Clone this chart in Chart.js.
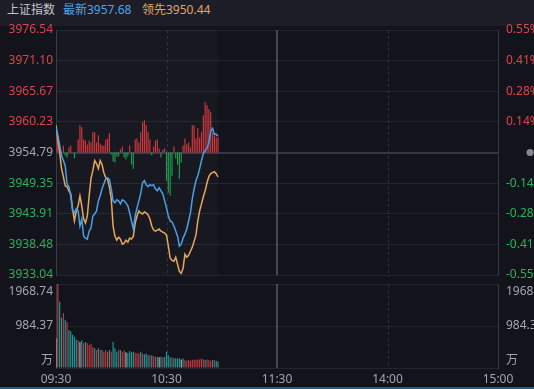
<!DOCTYPE html>
<html><head><meta charset="utf-8">
<script src="https://cdn.jsdelivr.net/npm/chart.js@4.4.1/dist/chart.umd.min.js"></script>
<style>
html,body{margin:0;padding:0;background:#13141b;width:534px;height:389px;overflow:hidden;font-family:"Noto Sans","Noto Sans CJK SC",sans-serif}
#hdr{position:absolute;left:0;top:0;width:534px;height:26px;background:#1c1d27}
#hdr span{position:absolute;top:2px;font-size:12px;line-height:16px;white-space:nowrap}
#c1{position:absolute;left:0;top:22px}
#c2{position:absolute;left:0;top:278px}
#foot{position:absolute;left:0;top:387px;width:534px;height:2px;background:#1f5f99}
</style></head><body>
<div id="hdr"><span style="left:7px;color:#c3c6cd">上证指数</span><span style="left:63px;color:#4ea5ec">最新3957.68</span><span style="left:142px;color:#e3a55c">领先3950.44</span></div>
<canvas id="c1" width="534" height="256"></canvas>
<canvas id="c2" width="534" height="111"></canvas>
<div id="foot"></div>
<script>
// ---- data ----
const prevClose = 3954.79;
const priceTicks = [3933.04, 3938.48, 3943.91, 3949.35, 3954.79, 3960.23, 3965.67, 3971.10, 3976.54];
const timeTickPos = [0, 60, 120, 180, 240];
const timeLabels = ['09:30', '10:30', '11:30', '14:00', '15:00'];
const volTicks = [0, 984.37, 1968.74];

const priceLine = [3959.26,3957.83,3956.04,3954.25,3953.36,3952.46,3949.25,3948.71,3947.10,3944.42,
 3944.06,3944.77,3944.42,3941.73,3942.98,3939.94,3939.59,3939.41,3940.84,3941.37,
 3943.52,3943.88,3944.42,3946.20,3947.10,3948.35,3949.25,3950.14,3950.32,3949.96,
 3948.35,3946.20,3945.85,3946.38,3946.20,3945.67,3946.38,3946.20,3945.85,3945.31,
 3944.06,3942.63,3941.20,3943.52,3944.95,3946.20,3947.46,3949.42,3949.78,3949.07,
 3948.71,3949.07,3948.89,3949.07,3948.35,3947.99,3948.53,3947.99,3947.46,3946.20,
 3944.95,3943.52,3942.63,3942.45,3941.73,3940.84,3939.94,3938.16,3938.51,3939.59,
 3940.30,3941.20,3942.63,3944.06,3946.56,3948.35,3949.78,3950.68,3951.93,3953.36,
 3954.61,3955.15,3955.51,3956.58,3958.55,3959.08,3958.01,3958.01,3957.68];

const leadLine = [3959.62,3956.94,3954.79,3951.93,3950.50,3948.89,3948.71,3947.99,3947.46,3944.77,
 3942.63,3944.42,3945.31,3947.10,3945.31,3942.98,3942.27,3943.52,3947.10,3950.14,
 3951.57,3953.36,3952.82,3951.93,3953.36,3952.64,3951.21,3950.32,3949.96,3948.71,
 3946.56,3941.73,3939.94,3939.23,3939.76,3939.41,3938.51,3938.69,3939.23,3938.87,
 3939.59,3939.41,3939.94,3942.27,3943.52,3944.42,3944.06,3943.88,3944.24,3944.06,
 3943.70,3942.98,3941.73,3941.02,3940.84,3941.02,3941.20,3940.84,3940.66,3940.48,
 3940.12,3938.16,3936.01,3935.65,3935.47,3936.19,3934.94,3933.68,3933.33,3934.22,
 3936.72,3936.19,3936.55,3937.26,3937.98,3939.05,3940.12,3942.63,3944.42,3945.67,
 3946.92,3947.99,3949.42,3950.50,3951.03,3951.21,3951.39,3951.03,3950.44];

const strength = [20,12,5,0,7,-3,-5,5,7,0,
 -6,0,13,27,25,13,12,8,12,10,
 20,20,10,17,9,7,7,13,14,19,
 -2,-9,-10,-4,-4,3,6,-5,-7,-4,
 7,-12,-16,13,14,10,20,30,32,27,
 20,13,-3,6,12,13,4,-5,3,4,
 -28,-40,-43,-23,6,-6,-12,-26,-10,7,
 14,8,10,5,27,27,14,24,15,20,
 37,50,47,43,40,20,17,15,15];

const volume = [700,1968.74,1550,1180,1290,1130,1080,890,860,780,
 730,660,650,610,650,580,610,580,540,570,
 490,460,420,460,420,420,380,420,380,420,
 380,610,460,380,420,420,380,410,370,350,
 400,370,380,360,350,340,380,340,320,340,
 300,300,300,280,265,265,250,265,250,260,
 380,300,250,250,230,230,225,230,200,225,
 190,170,190,170,190,200,190,200,200,220,
 200,190,200,190,170,190,190,170,150];

const volDir = ['g','r','t','t','r','t','r','t','t','t',
 't','t','r','g','t','r','t','r','r','r',
 'r','t','r','t','r','t','r','r','r','t',
 'r','t','t','t','r','t','r','r','g','t',
 't','t','t','r','r','r','t','r','t','t',
 't','r','t','r','r','t','g','t','r','t',
 't','t','t','r','t','t','t','t','g','t',
 'r','r','r','r','r','r','r','r','r','r',
 'r','t','r','r','r','t','r','t','t'];

// ---- styles ----
const RED = '#e0434b', GREEN = '#27b35a', GREY = '#a3a6ae';
const GRID = '#23252e', BORDER = '#353743';
const volColors = {r:'#c63a40', t:'#1c9c98', g:'#bcbcbc'};

Chart.defaults.font.family = '"Noto Sans","Noto Sans CJK SC",sans-serif';
Chart.defaults.font.size = 12;

const pts = arr => arr.map((v, i) => ({x: i, y: v}));
const fixTicks = vals => s => { s.ticks = vals.map(v => ({value: v})); };
const fitY = w => s => { s.width = w; s.paddingTop = 0; s.paddingBottom = 0; };
const priceColor = v => Math.abs(v - prevClose) < 0.001 ? GREY : (v > prevClose ? RED : GREEN);

function sessionPlugin(id, highlight) {
  return {
    id,
    beforeDatasetsDraw(chart) {
      const {ctx, chartArea: a, scales: {x}} = chart;
      ctx.save();
      ctx.beginPath(); ctx.rect(a.left, a.top, a.width, a.height); ctx.clip();
      if (highlight) {
        const x0 = x.getPixelForValue(0), x1 = x.getPixelForValue(priceLine.length - 1);
        ctx.fillStyle = 'rgba(255,255,255,0.022)';
        ctx.fillRect(x0, a.top, x1 - x0, a.height);
      }
      [60, 120, 180].forEach(t => {
        const px = Math.round(x.getPixelForValue(t));
        ctx.beginPath();
        if (t === 120) { ctx.setLineDash([]); ctx.strokeStyle = '#474a56'; ctx.lineWidth = 2; ctx.moveTo(px, a.top); ctx.lineTo(px, a.bottom); }
        else { ctx.setLineDash([3, 3]); ctx.strokeStyle = '#30323d'; ctx.lineWidth = 1; ctx.moveTo(px + 0.5, a.top); ctx.lineTo(px + 0.5, a.bottom); }
        ctx.stroke();
      });
      ctx.restore();
    }
  };
}

const dotPlugin = {
  id: 'dot',
  afterDraw(chart) {
    const {ctx, scales: {y}} = chart;
    ctx.save();
    ctx.fillStyle = '#85888f';
    ctx.beginPath(); ctx.arc(530, y.getPixelForValue(prevClose), 3.5, 0, Math.PI * 2); ctx.fill();
    ctx.restore();
  }
};

new Chart(document.getElementById('c1'), {
  type: 'line',
  data: {datasets: [
    {type: 'line', label: '最新', data: pts(priceLine), borderColor: '#4aa0e6', borderWidth: 1.5, pointRadius: 0, tension: 0, order: 1, yAxisID: 'y'},
    {type: 'line', label: '领先', data: pts(leadLine), borderColor: '#e6a75e', borderWidth: 1.5, pointRadius: 0, tension: 0, order: 2, yAxisID: 'y'},
    {type: 'bar', label: '强弱', data: pts(strength), backgroundColor: strength.map(v => v >= 0 ? '#d2393f' : '#1e9f52'), yAxisID: 'ys', barPercentage: 0.62, categoryPercentage: 1, order: 3}
  ]},
  options: {
    responsive: false, animation: false, devicePixelRatio: 1, events: [],
    layout: {padding: {top: 8, bottom: 3, left: 0, right: 0}},
    plugins: {legend: {display: false}, tooltip: {enabled: false}},
    scales: {
      x: {type: 'linear', min: 0, max: 240, display: false, offset: false, grid: {offset: false}},
      y: {
        position: 'left', min: priceTicks[0], max: priceTicks[priceTicks.length - 1],
        afterBuildTicks: fixTicks(priceTicks), afterFit: fitY(56),
        ticks: {padding: 3, color: c => priceColor(c.tick.value), callback: v => v.toFixed(2)},
        grid: {drawTicks: false, color: c => (c.tick && Math.abs(c.tick.value - prevClose) < 0.001) ? '#353744' : GRID, lineWidth: c => (c.tick && Math.abs(c.tick.value - prevClose) < 0.001) ? 2 : 1},
        border: {color: BORDER}
      },
      y2: {
        position: 'right', min: priceTicks[0], max: priceTicks[priceTicks.length - 1],
        afterBuildTicks: fixTicks(priceTicks), afterFit: fitY(36),
        ticks: {padding: 8, color: c => priceColor(c.tick.value),
          callback: v => Math.abs(v - prevClose) < 0.001 ? '' : ((v - prevClose) / prevClose * 100).toFixed(2) + '%'},
        grid: {display: false, drawTicks: false},
        border: {color: BORDER}
      },
      ys: {display: false, min: -121.5, max: 121.5}
    }
  },
  plugins: [sessionPlugin('sess1', true), dotPlugin]
});

const volLabelPlugin = {
  id: 'volLabels',
  afterDraw(chart) {
    const {ctx, chartArea: a, scales: {y}} = chart;
    ctx.save();
    ctx.font = '12px "Noto Sans","Noto Sans CJK SC",sans-serif';
    ctx.fillStyle = GREY;
    const items = [
      {v: volTicks[2], t: volTicks[2].toFixed(2), base: 'top'},
      {v: volTicks[1], t: volTicks[1].toFixed(2), base: 'middle'},
      {v: volTicks[0], t: '万', base: 'bottom'}
    ];
    items.forEach(it => {
      const py = y.getPixelForValue(it.v) + (it.base === 'top' ? 2 : it.base === 'bottom' ? -1 : 0);
      ctx.textBaseline = it.base;
      ctx.textAlign = 'right'; ctx.fillText(it.t, a.left - 3, py);
      ctx.textAlign = 'left'; ctx.fillText(it.t, a.right + 8, py);
    });
    ctx.restore();
  }
};

new Chart(document.getElementById('c2'), {
  type: 'line',
  data: {datasets: [
    {type: 'bar', label: '成交量', data: pts(volume), backgroundColor: volDir.map(d => volColors[d]), barPercentage: 0.62, categoryPercentage: 1}
  ]},
  options: {
    responsive: false, animation: false, devicePixelRatio: 1, events: [],
    layout: {padding: {top: 6, bottom: 0, left: 0, right: 0}},
    plugins: {legend: {display: false}, tooltip: {enabled: false}},
    scales: {
      x: {
        type: 'linear', min: 0, max: 240, offset: false,
        afterBuildTicks: fixTicks(timeTickPos), afterFit: s => { s.height = 21; },
        ticks: {autoSkip: false, maxRotation: 0, padding: 4, color: GREY, callback: v => timeLabels[timeTickPos.indexOf(v)]},
        grid: {display: false, drawTicks: false, offset: false},
        border: {color: GRID}
      },
      y: {
        position: 'left', min: 0, max: volTicks[2],
        afterBuildTicks: fixTicks(volTicks), afterFit: fitY(56),
        ticks: {display: false},
        grid: {drawTicks: false, color: GRID},
        border: {color: BORDER}
      },
      y2: {
        position: 'right', min: 0, max: volTicks[2],
        afterBuildTicks: fixTicks(volTicks), afterFit: fitY(36),
        ticks: {display: false},
        grid: {display: false, drawTicks: false},
        border: {color: BORDER}
      }
    }
  },
  plugins: [sessionPlugin('sess2', false), volLabelPlugin]
});
</script>
</body></html>
